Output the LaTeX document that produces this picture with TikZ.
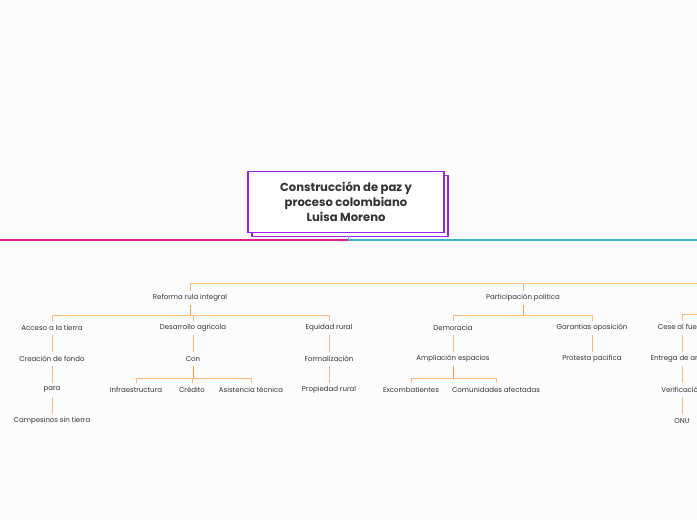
\documentclass[tikz,border=0pt]{standalone}
\usepackage{fontspec}
\setmainfont{Poppins}
\usepackage{xcolor}
\usetikzlibrary{shadows}

\definecolor{bgpaper}{RGB}{252,252,252}
\definecolor{topicpurple}{HTML}{A020F0}
\definecolor{leftpink}{HTML}{E2208C}
\definecolor{rightteal}{HTML}{3FB2C9}
\definecolor{branchorange}{HTML}{FFB878}
\definecolor{stuborange}{HTML}{F79A3C}
\definecolor{labelgrey}{HTML}{333333}

\tikzset{
	topic/.style={draw=topicpurple, line width=1.4pt, fill=white, text=labelgrey,
		minimum width=196pt, minimum height=61pt, align=center,
		font=\fontsize{11.6}{15}\selectfont\bfseries,
		copy shadow={shadow xshift=4pt, shadow yshift=-4pt}},
	label/.style={inner sep=0pt, minimum height=14pt, text=labelgrey, yshift=-0.8pt,
		font=\fontsize{7}{8}\selectfont},
	branch/.style={draw=branchorange, line width=1pt},
	stub/.style={draw=stuborange, line width=1pt},
	mainline/.style={line width=1.6pt}
}

\begin{document}
\begin{tikzpicture}[x=1pt,y=-1pt]
		
		\useasboundingbox (0,0) rectangle (697,520);
		\clip (0,0) rectangle (697,520);
		\fill[bgpaper] (0,0) rectangle (697,520);
		
		%--- Central topic ---
		\node[topic] (root) at (346,202) {Construcción de paz y\\proceso colombiano\\Luisa Moreno};
		
		% Main lines left and right
		\coordinate (hub) at (348,240);
		\coordinate (leftend) at (0,240);
		\coordinate (rightend) at (697,240);
		\draw[mainline, leftpink] (hub) -- (leftend);
		\draw[mainline, rightteal] (hub) -- (rightend);
		\draw[line width=1pt, rightteal] (root.south -| hub) ++(0,3) -- (hub);
		
		% Free ends of the brackets that leave the picture
		\coordinate (topbar) at (720,283);
		\coordinate (thirdbar) at (720,314);
		
		%--- Reforma rula integral ---
		\begin{scope}
			\node[label] (reforma) at (190,297) {Reforma rula integral};
			
			\node[label] (acceso) at (52,327) {Acceso a la tierra};
			\node[label] (creacion) at (52,358) {Creación de fondo};
			\node[label] (para) at (52,389) {para};
			\node[label] (campesinos) at (52,420) {Campesinos sin tierra};
			
			\node[label] (desarrollo) at (193,327) {Desarrollo agricola};
			\node[label] (con) at (193,358) {Con};
			\node[label] (infra) at (136,389) {Infraestructura};
			\node[label] (credito) at (192,389) {Crédito};
			\node[label] (asistencia) at (251,389) {Asistencia técnica};
			
			\node[label] (equidad) at (329,327) {Equidad rural};
			\node[label] (formal) at (329,358) {Formalización};
			\node[label] (propiedad) at (329,389) {Propiedad rural};
			
			% Connectors
			\draw[branch] (reforma.north) |- (topbar);
			\foreach \child in {acceso,desarrollo,equidad}
				\draw[branch] (reforma.south) -- ++(0,10) -| (\child.north);
			\draw[stub] (reforma.south) -- ++(0,10);
			
			\draw[branch] (acceso) -- (creacion);
			\draw[branch] (creacion) -- (para);
			\draw[branch] (para) -- (campesinos);
			
			\draw[branch] (desarrollo) -- (con);
			\foreach \child in {infra,credito,asistencia}
				\draw[branch] (con.south) -- ++(0,12) -| (\child.north);
			\draw[stub] (con.south) -- ++(0,12);
			
			\draw[branch] (equidad) -- (formal);
			\draw[branch] (formal) -- (propiedad);
		\end{scope}
		
		%--- Participacion politica ---
		\begin{scope}
			\node[label] (partic) at (523,297) {Participación politica};
			
			\node[label] (demoracia) at (453,327) {Demoracia};
			\node[label] (ampliacion) at (453,358) {Ampliación espacios};
			\node[label] (excomb) at (411,389) {Excombatientes};
			\node[label] (comunidades) at (496,389) {Comunidades afectadas};
			
			\node[label] (garantias) at (592,327) {Garantias oposición};
			\node[label] (protesta) at (592,358) {Protesta pacifica};
			
			% Connectors
			\draw[branch] (partic.north) |- (topbar);
			\foreach \child in {demoracia,garantias}
				\draw[branch] (partic.south) -- ++(0,10) -| (\child.north);
			\draw[stub] (partic.south) -- ++(0,10);
			
			\draw[branch] (demoracia) -- (ampliacion);
			\foreach \child in {excomb,comunidades}
				\draw[branch] (ampliacion.south) -- ++(0,12) -| (\child.north);
			\draw[stub] (ampliacion.south) -- ++(0,12);
			
			\draw[branch] (garantias) -- (protesta);
		\end{scope}
		
		%--- Third branch, cut by the right edge ---
		\begin{scope}
			\node[label] (cese) at (682,327) {Cese al fuego};
			\node[label] (entrega) at (682,358) {Entrega de armas};
			\node[label] (verif) at (682,389) {Verificación};
			\node[label] (onu) at (682,420) {ONU};
			
			% Connectors
			\draw[branch] (thirdbar) -| (cese.north);
			\draw[branch] (cese) -- (entrega);
			\draw[branch] (entrega) -- (verif);
			\draw[branch] (verif) -- (onu);
		\end{scope}
		
	\end{tikzpicture}
\end{document}
